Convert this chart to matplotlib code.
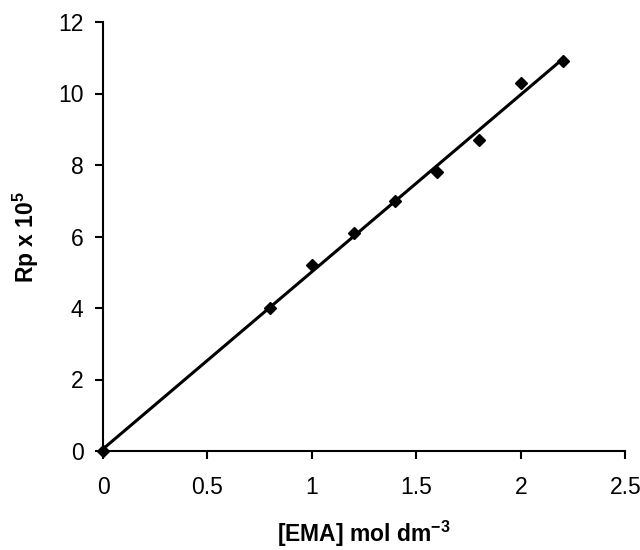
import numpy as np
import matplotlib
matplotlib.use("Agg")
import matplotlib.pyplot as plt

plt.rcParams['font.family'] = ['Liberation Sans', 'DejaVu Sans']

ema = [0.0, 0.8, 1.0, 1.2, 1.4, 1.6, 1.8, 2.0, 2.2]
rp = [0.0, 4.0, 5.2, 6.1, 7.0, 7.8, 8.7, 10.3, 10.9]
xticks = [0, 0.5, 1, 1.5, 2, 2.5]
xtick_labels = ['0', '0.5', '1', '1.5', '2', '2.5']
yticks = [0, 2, 4, 6, 8, 10, 12]

fig = plt.figure(figsize=(6.4, 5.5), dpi=100)
ax = fig.add_axes([0.161, 0.18, 0.816, 0.78])

m, b = np.polyfit(ema, rp, 1)
xl = np.array([min(ema), max(ema)])
ax.plot(xl, m * xl + b, color='black', lw=2.2, zorder=2)
ax.plot(ema, rp, linestyle='none', marker='D', color='black', markersize=6.5, zorder=3, clip_on=False)

ax.set_xlim(0, 2.5)
ax.set_ylim(0, 12)
ax.set_xticks(xticks)
ax.set_xticklabels(xtick_labels)
ax.set_yticks(yticks)
for s in ['top', 'right']:
    ax.spines[s].set_visible(False)
for s in ['left', 'bottom']:
    ax.spines[s].set_linewidth(1.5)
ax.tick_params(direction='out', length=6, width=1.5, labelsize=16.5)
ax.tick_params(axis='x', pad=12)
ax.tick_params(axis='y', pad=8)
ax.set_xlabel('[EMA] mol dm$^{\\mathregular{-3}}$', fontsize=16.5, fontweight='bold', labelpad=14)
ax.set_ylabel('Rp x 10$^{\\mathregular{5}}$', fontsize=16.5, fontweight='bold', labelpad=12)

fig.savefig('out.png', dpi=100)
